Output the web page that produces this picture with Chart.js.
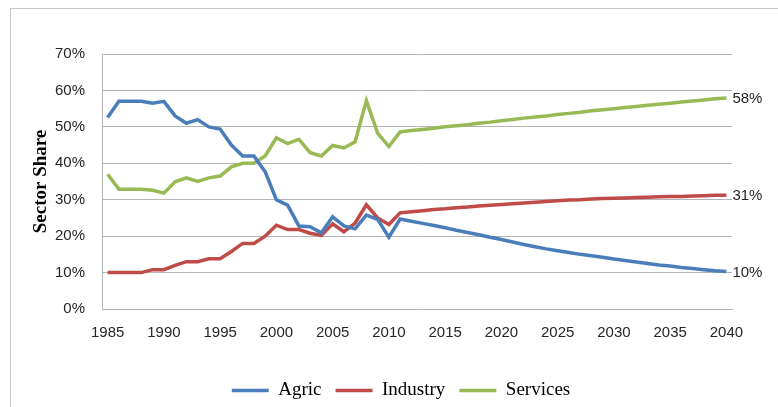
<!DOCTYPE html>
<html>
<head>
<meta charset="utf-8">
<script src="https://cdn.jsdelivr.net/npm/chart.js@4.4.1/dist/chart.umd.min.js"></script>
<style>
  body { margin: 0; background: #fff; }
  #wrap { position: relative; width: 778px; height: 407px; overflow: hidden; }
  #frame { position: absolute; left: 10px; top: 8px; width: 900px; height: 500px;
           border-left: 1px solid #c8c8c8; border-top: 1px solid #c8c8c8; }
  canvas { position: absolute; left: 0; top: 0; }
</style>
</head>
<body>
<div id="wrap">
  <div id="frame"></div>
  <canvas id="chart" width="778" height="407"></canvas>
</div>
<script>
const years = [
  1985, 1986, 1987, 1988, 1989, 1990, 1991, 1992, 1993, 1994,
  1995, 1996, 1997, 1998, 1999, 2000, 2001, 2002, 2003, 2004,
  2005, 2006, 2007, 2008, 2009, 2010, 2011, 2012, 2013, 2014,
  2015, 2016, 2017, 2018, 2019, 2020, 2021, 2022, 2023, 2024,
  2025, 2026, 2027, 2028, 2029, 2030, 2031, 2032, 2033, 2034,
  2035, 2036, 2037, 2038, 2039, 2040
];

// sector shares in %
const agric = [
  52.6, 57.0, 57.0, 57.0, 56.5, 57.0, 53.0, 51.0, 52.0, 50.0,
  49.4, 45.0, 42.0, 42.0, 37.7, 30.0, 28.5, 22.8, 22.6, 20.9,
  25.3, 22.8, 22.0, 25.8, 24.6, 19.7, 24.7, 24.1, 23.5, 22.9,
  22.3, 21.6, 21.0, 20.4, 19.7, 19.1, 18.4, 17.7, 17.1, 16.5,
  16.0, 15.5, 15.0, 14.6, 14.2, 13.7, 13.3, 12.9, 12.5, 12.1,
  11.8, 11.4, 11.1, 10.8, 10.5, 10.3
];
const industry = [
  10.0, 10.0, 10.0, 10.0, 10.8, 10.8, 12.0, 13.0, 13.0, 13.8,
  13.8, 15.8, 18.0, 18.0, 20.0, 23.0, 21.8, 21.8, 20.8, 20.2,
  23.4, 21.2, 23.6, 28.6, 25.0, 23.2, 26.4, 26.7, 27.0, 27.3,
  27.5, 27.8, 28.0, 28.3, 28.5, 28.7, 28.9, 29.1, 29.3, 29.5,
  29.7, 29.9, 30.0, 30.2, 30.3, 30.4, 30.5, 30.6, 30.7, 30.8,
  30.9, 30.9, 31.0, 31.1, 31.2, 31.2
];
const services = [
  37.0, 32.9, 32.9, 32.9, 32.6, 31.8, 34.9, 36.0, 35.0, 36.0,
  36.5, 39.0, 40.0, 40.0, 42.0, 47.0, 45.4, 46.6, 42.9, 42.0,
  44.9, 44.2, 45.9, 57.2, 48.3, 44.6, 48.6, 49.0, 49.3, 49.6,
  50.0, 50.3, 50.6, 51.0, 51.3, 51.7, 52.0, 52.4, 52.7, 53.0,
  53.4, 53.7, 54.0, 54.4, 54.7, 55.0, 55.3, 55.6, 55.9, 56.2,
  56.5, 56.8, 57.1, 57.4, 57.7, 57.9
];

const seriesNames = ['Agric', 'Industry', 'Services'];
const seriesColors = ['#4a7ebb', '#be4b48', '#98b954'];
const yTicks = [0, 10, 20, 30, 40, 50, 60, 70];

const sansFont = '"Liberation Sans", Arial, sans-serif';
const serifFont = '"Liberation Serif", "Times New Roman", serif';

// writes the last value of each line just right of its end
const endLabels = {
  id: 'endLabels',
  afterDatasetsDraw(chart) {
    const ctx = chart.ctx;
    ctx.save();
    ctx.font = '15px ' + sansFont;
    ctx.fillStyle = '#262626';
    ctx.textAlign = 'left';
    ctx.textBaseline = 'middle';
    chart.data.datasets.forEach((ds, i) => {
      const meta = chart.getDatasetMeta(i);
      const last = meta.data[meta.data.length - 1];
      const v = ds.data[ds.data.length - 1];
      ctx.fillText(Math.round(v) + '%', last.x + 6, last.y + 1);
    });
    ctx.restore();
  }
};

// the legend sits centred under the whole frame, not just the plot
const legendShift = {
  id: 'legendShift',
  afterLayout(chart) {
    const lg = chart.legend;
    lg.left += 30; lg.right += 30;
    lg.top += 3; lg.bottom += 3;
  }
};

new Chart(document.getElementById('chart'), {
  type: 'line',
  data: {
    labels: years,
    datasets: [agric, industry, services].map((d, i) => ({
      label: seriesNames[i],
      data: d,
      borderColor: seriesColors[i],
      backgroundColor: seriesColors[i],
      borderWidth: 3.5,
      pointRadius: 0,
      tension: 0,
      fill: false
    }))
  },
  options: {
    responsive: false,
    animation: false,
    layout: { padding: { top: 54, right: 46, left: 10, bottom: 0 } },
    plugins: {
      tooltip: { enabled: false },
      legend: {
        position: 'bottom',
        labels: {
          usePointStyle: true,
          pointStyle: 'line',
          pointStyleWidth: 37,
          padding: 14,
          color: '#000',
          font: { family: serifFont, size: 19 }
        }
      }
    },
    scales: {
      x: {
        offset: true,
        grid: { display: false },
        border: { display: true, color: '#b4b4b4' },
        ticks: {
          autoSkip: false,
          maxRotation: 0,
          padding: 7,
          color: '#262626',
          font: { family: sansFont, size: 15 },
          callback: (val, i) => (years[i] % 5 === 0 ? String(years[i]) : '')
        },
        afterFit: scale => { scale.height = 55; }
      },
      y: {
        min: 0,
        max: 70,
        afterBuildTicks: scale => { scale.ticks = yTicks.map(v => ({ value: v })); },
        grid: { color: '#b4b4b4', lineWidth: 1, drawTicks: false },
        border: { display: true, color: '#b4b4b4' },
        ticks: {
          padding: 17,
          color: '#262626',
          font: { family: sansFont, size: 15 },
          callback: v => v + '%'
        },
        title: {
          display: true,
          text: 'Sector Share',
          color: '#000',
          padding: { top: 20, bottom: 0 },
          font: { family: serifFont, size: 19, weight: 'bold' }
        },
        afterFit: scale => { scale.width = 92; }
      }
    }
  },
  plugins: [endLabels, legendShift]
});
</script>
</body>
</html>
